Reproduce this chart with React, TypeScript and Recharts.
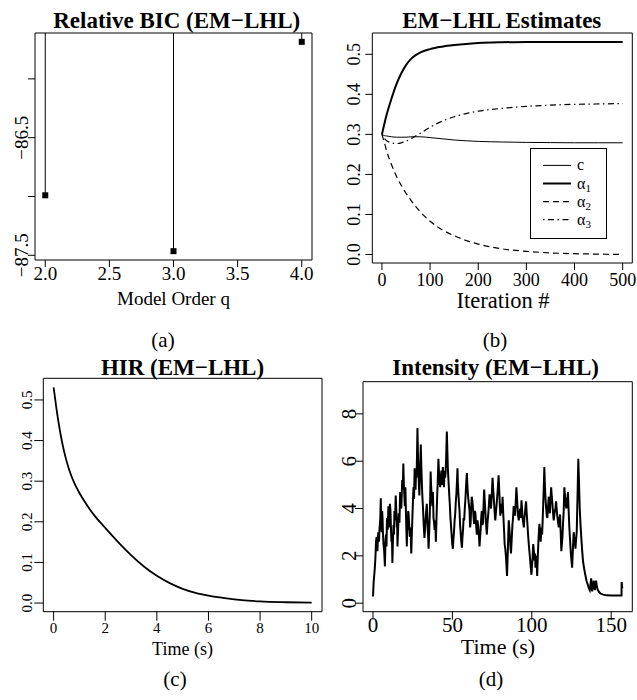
import React from "react";
import {
  ScatterChart,
  Scatter,
  LineChart,
  Line,
  XAxis,
  YAxis,
  ReferenceLine,
  ReferenceArea,
  Legend,
} from "recharts";

const FONT = '"Liberation Serif", "Times New Roman", serif';

// (a) relative BIC against model order
const orders = [2, 3, 4];
const relBIC = [-86.99, -87.465, -85.685];

// (b) EM-LHL parameter estimates per iteration
const iterations = [0, 5, 10, 20, 30, 40, 50, 60, 70, 80, 100, 125, 150, 175, 200, 250, 300, 350, 400, 450, 500];
const estC = [0.3, 0.297, 0.296, 0.294, 0.293, 0.293, 0.293, 0.294, 0.294, 0.294, 0.292, 0.289, 0.286, 0.284, 0.2825, 0.281, 0.28, 0.2795, 0.279, 0.279, 0.279];
const estA1 = [0.3, 0.326, 0.35, 0.39, 0.425, 0.452, 0.473, 0.488, 0.498, 0.505, 0.513, 0.519, 0.523, 0.526, 0.528, 0.53, 0.531, 0.531, 0.531, 0.531, 0.531];
const estA2 = [0.3, 0.28, 0.258, 0.224, 0.196, 0.173, 0.153, 0.136, 0.12, 0.106, 0.083, 0.062, 0.047, 0.035, 0.026, 0.014, 0.008, 0.004, 0.002, 0.001, 0.0];
const estA3 = [0.3, 0.29, 0.284, 0.279, 0.277, 0.279, 0.283, 0.289, 0.296, 0.303, 0.318, 0.333, 0.344, 0.352, 0.358, 0.365, 0.37, 0.373, 0.375, 0.376, 0.377];

// (c) history intensity response
const hirTime = [0, 0.1, 0.2, 0.3, 0.4, 0.5, 0.6, 0.7, 0.8, 0.9, 1.0, 1.2, 1.4, 1.6, 1.8, 2.0, 2.5, 3.0, 3.5, 4.0, 4.5, 5.0, 5.5, 6.0, 7.0, 8.0, 9.0, 10.0];
const hirValue = [0.531, 0.483, 0.441, 0.405, 0.375, 0.35, 0.329, 0.311, 0.296, 0.283, 0.271, 0.25, 0.231, 0.214, 0.199, 0.185, 0.15, 0.118, 0.09, 0.067, 0.049, 0.035, 0.025, 0.018, 0.009, 0.004, 0.002, 0.001];

// (d) estimated intensity over time
const intensityTime = [
  0, 0.4, 0.8, 1.15, 1.5, 1.9, 2.3, 2.55, 2.8, 3.05, 3.3, 3.55, 3.8, 4.05, 4.3, 4.6, 4.9, 5.2, 5.5, 5.75,
  6.0, 6.3, 6.6, 7.05, 7.5, 7.85, 8.2, 8.5, 8.8, 9.25, 9.7, 10.0, 10.3, 10.65, 11.0, 11.3, 11.6, 11.9, 12.2, 12.55,
  12.9, 13.2, 13.5, 13.9, 14.3, 14.65, 15.0, 15.2, 15.4, 15.8, 16.2, 16.65, 17.1, 17.45, 17.8, 18.1, 18.4, 18.75, 19.1, 19.4,
  19.7, 20.05, 20.4, 20.85, 21.3, 21.6, 21.9, 22.15, 22.4, 22.8, 23.2, 23.65, 24.1, 24.45, 24.8, 25.15, 25.5, 25.85, 26.2, 26.5,
  26.8, 27.1, 27.4, 27.7, 28.0, 28.3, 28.6, 28.9, 29.2, 29.45, 29.7, 29.9, 30.1, 30.4, 30.7, 31.1, 31.5, 31.95, 32.4, 32.75,
  33.1, 33.5, 33.9, 34.2, 34.5, 34.75, 35.0, 35.4, 35.8, 36.05, 36.3, 36.5, 36.7, 37.05, 37.4, 37.75, 38.1, 38.45, 38.8, 39.2,
  39.6, 40.0, 40.4, 40.8, 41.2, 41.5, 41.8, 42.05, 42.3, 42.7, 43.1, 43.55, 44.0, 44.35, 44.7, 45.05, 45.4, 45.7, 46.0, 46.25,
  46.5, 46.85, 47.2, 47.6, 48.0, 48.35, 48.7, 49.1, 49.5, 49.9, 50.3, 50.65, 51.0, 51.4, 51.8, 52.15, 52.5, 52.85, 53.2, 53.5,
  53.8, 54.15, 54.5, 54.85, 55.2, 55.6, 56.0, 56.35, 56.7, 57.05, 57.4, 57.8, 58.2, 58.65, 59.1, 59.5, 59.9, 60.35, 60.8, 61.15,
  61.5, 61.85, 62.2, 62.6, 63.0, 63.35, 63.7, 64.1, 64.5, 64.95, 65.4, 65.8, 66.2, 66.65, 67.1, 67.45, 67.8, 68.15, 68.5, 68.9,
  69.3, 69.65, 70.0, 70.4, 70.8, 71.25, 71.7, 72.1, 72.5, 72.95, 73.4, 73.85, 74.3, 74.8, 75.3, 75.7, 76.1, 76.55, 77.0, 77.5,
  78.0, 78.55, 79.1, 79.35, 79.6, 79.9, 80.2, 80.55, 80.9, 81.25, 81.6, 81.95, 82.3, 82.6, 82.9, 83.3, 83.7, 84.05, 84.4, 84.7,
  85.0, 85.25, 85.5, 85.85, 86.2, 86.55, 86.9, 87.35, 87.8, 88.2, 88.6, 89.05, 89.5, 89.9, 90.3, 90.65, 91.0, 91.4, 91.8, 92.25,
  92.7, 93.1, 93.5, 93.85, 94.2, 94.6, 95.0, 95.35, 95.7, 96.05, 96.4, 96.8, 97.2, 97.65, 98.1, 98.5, 98.9, 99.35, 99.8, 100.15,
  100.5, 100.9, 101.3, 101.55, 101.8, 102.05, 102.3, 102.6, 102.9, 103.15, 103.4, 103.75, 104.1, 104.45, 104.8, 105.2, 105.6, 106.05, 106.5, 106.85,
  107.2, 107.55, 107.9, 108.2, 108.5, 108.75, 109.0, 109.4, 109.8, 110.25, 110.7, 111.05, 111.4, 111.8, 112.2, 112.6, 113.0, 113.4, 113.8, 114.15,
  114.5, 114.9, 115.3, 115.75, 116.2, 116.6, 117.0, 117.4, 117.8, 118.2, 118.6, 118.95, 119.3, 119.7, 120.1, 120.3, 120.5, 120.85, 121.2, 121.5,
  121.8, 122.05, 122.3, 122.55, 122.8, 123.1, 123.4, 123.65, 123.9, 124.25, 124.6, 125.0, 125.4, 125.65, 125.9, 126.15, 126.4, 126.7, 127.0, 127.25,
  127.5, 127.9, 128.3, 128.55, 128.8, 129.05, 129.3, 129.5, 129.7, 129.95, 130.2, 130.7, 131.2, 131.75, 132.3, 133.0, 133.7, 134.45, 135.2, 135.85,
  136.5, 137.0, 137.4, 137.7, 138.0, 138.5, 139.0, 139.35, 139.7, 140.1, 140.5, 141.0, 141.6, 142.5, 143.5, 145.0, 147.0, 150.0, 153.0, 156.5,
  156.6, 157.0,
];
const intensityValue = [
  0.28, 0.9, 1.2, 1.5, 1.9, 2.6, 2.8, 2.4, 2.2, 2.7, 3.0, 2.9, 2.6, 3.1, 3.3, 3.6, 4.43, 3.2, 3.0, 3.9,
  3.6, 2.9, 2.5, 2.2, 1.55, 2.6, 2.9, 2.4, 3.6, 3.1, 4.1, 3.8, 3.2, 4.2, 3.9, 3.2, 2.6, 2.9, 1.7, 2.6,
  3.3, 2.9, 3.9, 3.5, 4.55, 3.9, 3.2, 3.5, 2.4, 3.1, 3.8, 3.4, 4.7, 4.2, 4.0, 4.6, 5.2, 4.8, 5.9, 5.1,
  4.6, 4.1, 4.9, 3.5, 2.4, 3.3, 3.1, 3.9, 3.8, 3.3, 2.8, 3.2, 2.1, 2.9, 3.6, 4.3, 4.9, 4.4, 5.7, 5.1,
  4.8, 5.6, 5.3, 6.2, 7.4, 6.3, 5.6, 5.0, 4.55, 5.2, 5.8, 6.2, 6.7, 5.9, 5.2, 4.5, 4.0, 3.3, 2.76, 3.1,
  3.5, 3.9, 4.2, 3.6, 3.1, 2.8, 2.3, 3.0, 3.9, 4.6, 5.56, 5.1, 4.85, 4.4, 4.1, 4.7, 3.6, 3.4, 3.1, 3.5,
  2.6, 3.6, 4.5, 5.2, 6.1, 5.6, 5.0, 5.4, 4.9, 5.3, 5.6, 5.0, 5.75, 5.2, 4.9, 5.6, 5.3, 5.5, 6.0, 6.6,
  7.25, 6.4, 5.6, 5.1, 4.6, 4.2, 3.7, 3.3, 2.9, 2.5, 2.3, 2.7, 3.0, 3.5, 3.8, 4.3, 4.6, 5.1, 5.7, 5.0,
  4.6, 4.2, 3.9, 3.3, 3.0, 2.6, 2.35, 2.8, 3.1, 3.6, 3.5, 4.0, 4.4, 5.0, 5.5, 4.9, 4.5, 4.2, 3.9, 3.2,
  3.4, 4.1, 4.5, 4.3, 4.0, 3.6, 3.35, 3.9, 3.8, 3.3, 2.9, 3.5, 3.3, 2.9, 2.4, 2.8, 3.1, 3.6, 3.9, 3.3,
  3.4, 4.2, 4.8, 4.3, 3.8, 3.3, 2.9, 3.4, 3.7, 4.1, 4.6, 4.3, 4.0, 4.6, 5.3, 4.8, 4.4, 3.9, 3.5, 3.9,
  4.3, 4.8, 5.4, 5.0, 4.6, 4.1, 3.7, 4.0, 4.2, 3.8, 4.5, 3.9, 3.4, 3.0, 2.5, 2.3, 2.0, 1.6, 1.15, 1.8,
  2.4, 3.0, 3.5, 3.2, 2.8, 2.4, 2.1, 2.7, 3.3, 3.6, 4.1, 3.9, 3.7, 4.3, 4.9, 4.5, 4.1, 3.7, 3.5, 3.8,
  4.0, 3.6, 4.35, 4.0, 3.6, 3.4, 3.2, 3.6, 3.8, 4.1, 4.3, 3.8, 3.4, 2.9, 2.5, 2.2, 1.9, 1.5, 1.2, 1.6,
  1.9, 2.5, 2.2, 2.0, 1.8, 2.1, 1.5, 1.8, 2.0, 1.6, 1.15, 1.9, 2.5, 3.0, 3.35, 2.9, 2.6, 3.2, 2.9, 3.5,
  4.2, 4.9, 5.75, 5.1, 4.6, 4.3, 4.05, 3.7, 3.6, 4.1, 4.5, 4.0, 3.8, 4.4, 4.9, 4.5, 4.2, 3.8, 3.5, 3.7,
  3.9, 4.0, 4.3, 3.9, 3.6, 3.4, 3.2, 3.5, 3.75, 3.0, 2.2, 2.5, 2.8, 3.4, 3.9, 4.4, 4.9, 4.6, 4.3, 4.1,
  4.0, 4.2, 4.4, 4.5, 4.7, 4.1, 3.6, 3.2, 2.9, 2.5, 2.1, 1.8, 1.5, 1.9, 2.3, 2.7, 3.0, 2.8, 2.7, 2.5,
  2.3, 2.7, 3.0, 3.8, 4.5, 5.3, 6.1, 5.6, 5.2, 4.6, 4.0, 3.3, 2.75, 2.2, 1.75, 1.45, 1.2, 0.95, 0.8, 0.65,
  0.55, 0.8, 1.05, 0.7, 0.5, 0.75, 0.95, 0.7, 0.55, 0.75, 0.95, 0.7, 0.55, 0.46, 0.4, 0.36, 0.33, 0.32, 0.32, 0.32,
  0.89, 0.63,
];

const bicRows = orders.map((q, i) => ({ q, bic: relBIC[i] }));
const estRows = iterations.map((it, i) => ({ it, c: estC[i], a1: estA1[i], a2: estA2[i], a3: estA3[i] }));
const hirRows = hirTime.map((t, i) => ({ t, v: hirValue[i] }));
const intensityRows = intensityTime.map((t, i) => ({ t, v: intensityValue[i] }));

const estSeries = [
  { key: "c", name: "c", sub: "", width: 1, dash: undefined as string | undefined },
  { key: "a1", name: "α", sub: "1", width: 2, dash: undefined },
  { key: "a2", name: "α", sub: "2", width: 1.2, dash: "6 4" },
  { key: "a3", name: "α", sub: "3", width: 1.2, dash: "1.5 3.5 6 3.5" },
];

const minus = (s: string) => s.replace("-", "\u2212");

function xTick(size: number, dy: number, fmt: (v: number) => string) {
  return (p: any) => (
    <text x={p.x} y={p.y + dy} textAnchor="middle" fontFamily={FONT} fontSize={size} fill="#000">
      {fmt(p.payload.value)}
    </text>
  );
}

function yTick(size: number, gap: number, fmt: (v: number) => string) {
  return (p: any) => {
    const x = p.x - gap;
    const y = p.y;
    return (
      <text x={x} y={y} transform={`rotate(-90, ${x}, ${y})`} textAnchor="middle" fontFamily={FONT} fontSize={size} fill="#000">
        {fmt(p.payload.value)}
      </text>
    );
  };
}

function EstimatesLegend() {
  return (
    <svg width={77} height={91} style={{ display: "block" }}>
      <rect x={0.5} y={0.5} width={76} height={90} fill="#fff" stroke="#000" />
      {estSeries.map((s, i) => {
        const y = 17.4 + i * 18.1;
        return (
          <g key={s.key}>
            <line x1={13} x2={41} y1={y} y2={y} stroke="#000" strokeWidth={s.width} strokeDasharray={s.dash} />
            <text x={47} y={y + 5} fontFamily={FONT} fontSize={16} fill="#000">
              {s.name}
              {s.sub && (
                <tspan fontSize={11} dy={3}>
                  {s.sub}
                </tspan>
              )}
            </text>
          </g>
        );
      })}
    </svg>
  );
}

const bicX: [number, number] = [1.92, 4.08];
const bicY: [number, number] = [-87.54, -85.61];
const estX: [number, number] = [-20, 520];
const estY: [number, number] = [-0.0212, 0.5532];
const hirX: [number, number] = [-0.4, 10.4];
const hirY: [number, number] = [-0.0213, 0.5533];
const intX: [number, number] = [-6.3, 163.3];
const intY: [number, number] = [-0.36, 9.36];

const box = (x: [number, number], y: [number, number]) => (
  <ReferenceArea x1={x[0]} x2={x[1]} y1={y[0]} y2={y[1]} fill="none" stroke="#000" strokeWidth={1} ifOverflow="visible" />
);

const captions = [
  { text: "Relative BIC (EM\u2212LHL)", x: 176.7, y: 28, size: 23, bold: true },
  { text: "EM\u2212LHL Estimates", x: 501.8, y: 28, size: 23, bold: true },
  { text: "HIR (EM\u2212LHL)", x: 182.5, y: 375, size: 23, bold: true },
  { text: "Intensity (EM\u2212LHL)", x: 495.6, y: 375, size: 23, bold: true },
  { text: "Model Order q", x: 173.5, y: 305, size: 19, bold: false },
  { text: "Iteration #", x: 503, y: 308, size: 22.5, bold: false },
  { text: "Time (s)", x: 182.5, y: 655, size: 18, bold: false },
  { text: "Time (s)", x: 498, y: 654, size: 22, bold: false },
  { text: "(a)", x: 163, y: 347, size: 21, bold: false },
  { text: "(b)", x: 495, y: 347, size: 21, bold: false },
  { text: "(c)", x: 175, y: 686, size: 21, bold: false },
  { text: "(d)", x: 491, y: 686, size: 21, bold: false },
];

export default function App() {
  return (
    <div style={{ position: "absolute", left: 0, top: 0, width: 637, height: 700, background: "#fff", overflow: "hidden" }}>
      <div style={{ position: "absolute", left: 0, top: 0 }}>
        <ScatterChart width={320} height={330} margin={{ top: 33, right: 8, bottom: 0, left: 0 }}>
          <XAxis type="number" dataKey="q" domain={bicX} allowDataOverflow ticks={[2, 2.5, 3, 3.5, 4]} height={70}
            axisLine={false} tickLine={{ stroke: "#000" }} tickSize={7} tickMargin={0}
            tick={xTick(19, 13, (v) => v.toFixed(1))} />
          <YAxis type="number" dataKey="bic" domain={bicY} allowDataOverflow ticks={[-87.5, -87, -86.5, -86]} width={35}
            axisLine={false} tickLine={{ stroke: "#000" }} tickSize={7} tickMargin={0}
            tick={yTick(19, 0, (v) => (v === -86.5 || v === -87.5 ? minus(v.toFixed(1)) : ""))} />
          {box(bicX, bicY)}
          {bicRows.map((r) => (
            <ReferenceLine key={r.q} segment={[{ x: r.q, y: r.bic }, { x: r.q, y: bicY[1] }]} stroke="#000" strokeWidth={1} />
          ))}
          <Scatter data={bicRows} isAnimationActive={false}
            shape={(p: any) => <rect x={p.cx - 3} y={p.cy - 3} width={6} height={6} fill="#000" />} />
        </ScatterChart>
      </div>

      <div style={{ position: "absolute", left: 318, top: 0 }}>
        <LineChart width={319} height={330} data={estRows} margin={{ top: 33, right: 4.7, bottom: 0, left: 0 }}>
          <XAxis type="number" dataKey="it" domain={estX} allowDataOverflow ticks={[0, 100, 200, 300, 400, 500]} height={67}
            axisLine={false} tickLine={{ stroke: "#000" }} tickSize={7} tickMargin={0}
            tick={xTick(18, 15.5, (v) => String(v))} />
          <YAxis type="number" domain={estY} allowDataOverflow ticks={[0, 0.1, 0.2, 0.3, 0.4, 0.5]} width={54.3}
            axisLine={false} tickLine={{ stroke: "#000" }} tickSize={7} tickMargin={0}
            tick={yTick(18, 5.6, (v) => v.toFixed(1))} />
          {box(estX, estY)}
          {estSeries.map((s) => (
            <Line key={s.key} type="monotone" dataKey={s.key} stroke="#000" strokeWidth={s.width}
              strokeDasharray={s.dash} dot={false} isAnimationActive={false} />
          ))}
          <Legend layout="vertical" align="center" verticalAlign="middle" content={() => <EstimatesLegend />}
            wrapperStyle={{ left: 211.7, top: 148.3, width: 77, height: 91 }} />
        </LineChart>
      </div>

      <div style={{ position: "absolute", left: 0, top: 340 }}>
        <LineChart width={330} height={360} data={hirRows} margin={{ top: 38.3, right: 8, bottom: 0, left: 0 }}>
          <XAxis type="number" dataKey="t" domain={hirX} allowDataOverflow ticks={[0, 2, 4, 6, 8, 10]} height={88.3}
            axisLine={false} tickLine={{ stroke: "#000" }} tickSize={9} tickMargin={0}
            tick={xTick(15, 12.6, (v) => String(v))} />
          <YAxis type="number" domain={hirY} allowDataOverflow ticks={[0, 0.1, 0.2, 0.3, 0.4, 0.5]} width={43.3}
            axisLine={false} tickLine={{ stroke: "#000" }} tickSize={9} tickMargin={0}
            tick={yTick(15, 2.6, (v) => v.toFixed(1))} />
          {box(hirX, hirY)}
          <Line type="monotone" dataKey="v" stroke="#000" strokeWidth={1.8} dot={false} isAnimationActive={false} />
        </LineChart>
      </div>

      <div style={{ position: "absolute", left: 318, top: 340 }}>
        <LineChart width={319} height={360} data={intensityRows} margin={{ top: 41.7, right: 4.7, bottom: 0, left: 0 }}>
          <XAxis type="number" dataKey="t" domain={intX} allowDataOverflow ticks={[0, 50, 100, 150]} height={88.3}
            axisLine={false} tickLine={{ stroke: "#000" }} tickSize={8} tickMargin={0}
            tick={xTick(21, 12, (v) => String(v))} />
          <YAxis type="number" domain={intY} allowDataOverflow ticks={[0, 2, 4, 6, 8]} width={45}
            axisLine={false} tickLine={{ stroke: "#000" }} tickSize={8} tickMargin={0}
            tick={yTick(21, -1, (v) => String(v))} />
          {box(intX, intY)}
          <Line type="linear" dataKey="v" stroke="#000" strokeWidth={2} dot={false} isAnimationActive={false} />
        </LineChart>
      </div>

      <svg width={637} height={700} style={{ position: "absolute", left: 0, top: 0, pointerEvents: "none" }}>
        {captions.map((c, i) => (
          <text key={i} x={c.x} y={c.y} textAnchor="middle" fontFamily={FONT} fontSize={c.size}
            fontWeight={c.bold ? "bold" : "normal"} fill="#000">
            {c.text}
          </text>
        ))}
      </svg>
    </div>
  );
}
